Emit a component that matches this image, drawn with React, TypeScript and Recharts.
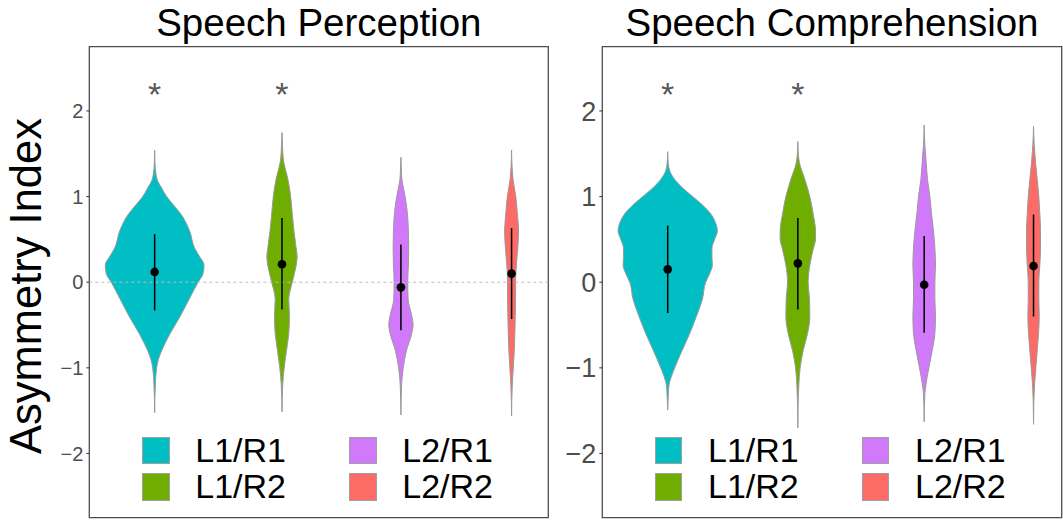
import React from 'react';
import { ComposedChart, Area, Scatter, XAxis, YAxis, ReferenceLine, ReferenceArea } from 'recharts';

const FONT = '"Liberation Sans", Arial, Helvetica, sans-serif';

const GROUPS = ['L1/R1', 'L1/R2', 'L2/R1', 'L2/R2'];
const COLORS = ['#00BEC4', '#6FAE00', '#D079FA', '#FC6B65'];
const Y_TICKS = [-2, -1, 0, 1, 2];

// dodged x position of each group inside a panel (x axis runs 0..46)
const PERCEPTION_X = [6.55, 19.31, 31.23, 42.32];
const COMPREHENSION_X = [6.55, 19.58, 32.23, 43.18];

// median and interval of each group
const PERCEPTION_MED = [0.12, 0.21, -0.06, 0.1];
const PERCEPTION_LO = [-0.33, -0.32, -0.56, -0.43];
const PERCEPTION_HI = [0.56, 0.75, 0.44, 0.63];
const COMPREHENSION_MED = [0.15, 0.22, -0.03, 0.19];
const COMPREHENSION_LO = [-0.36, -0.32, -0.59, -0.4];
const COMPREHENSION_HI = [0.66, 0.75, 0.54, 0.79];

// significance stars
const PERCEPTION_SIG = [true, true, false, false];
const COMPREHENSION_SIG = [true, true, false, false];
const STAR_Y = 2.28;

// violin outlines: [asymmetry index, half width]
const PERC_L1R1 = [
  [1.544, 0], [1.4, 0.03], [1.25, 0.15], [1.2, 0.25], [1.1, 0.7], [1.0, 1.2], [0.9, 1.9],
  [0.8, 2.6], [0.6, 3.5], [0.4, 4.0], [0.3, 4.5], [0.2, 4.95], [0.1, 4.85], [0, 4.35],
  [-0.2, 3.45], [-0.4, 2.55], [-0.6, 1.55], [-0.8, 0.7], [-0.9, 0.38], [-1.0, 0.2],
  [-1.2, 0.07], [-1.524, 0],
];
const PERC_L1R2 = [
  [1.747, 0], [1.6, 0.05], [1.45, 0.12], [1.4, 0.18], [1.2, 0.6], [1.0, 0.87], [0.8, 1.03],
  [0.6, 1.2], [0.4, 1.42], [0.3, 1.52], [0.2, 1.43], [0, 1.03], [-0.2, 0.68], [-0.4, 0.75],
  [-0.6, 0.68], [-0.8, 0.45], [-1.0, 0.22], [-1.2, 0.07], [-1.513, 0],
];
const PERC_L2R1 = [
  [1.459, 0], [1.3, 0.05], [1.2, 0.1], [1.1, 0.25], [1.0, 0.42], [0.8, 0.65], [0.6, 0.75],
  [0.4, 0.78], [0.2, 0.75], [0, 0.68], [-0.2, 0.72], [-0.4, 1.1], [-0.5, 1.22], [-0.6, 1.08],
  [-0.8, 0.55], [-1.0, 0.23], [-1.2, 0.07], [-1.551, 0],
];
const PERC_L2R2 = [
  [1.544, 0], [1.35, 0.05], [1.2, 0.15], [1.1, 0.28], [1.0, 0.42], [0.8, 0.58], [0.6, 0.7],
  [0.4, 0.62], [0.2, 0.48], [0, 0.4], [-0.2, 0.4], [-0.4, 0.37], [-0.6, 0.33], [-0.8, 0.27],
  [-1.0, 0.17], [-1.2, 0.07], [-1.563, 0],
];

const COMP_L1R1 = [
  [1.525, 0], [1.4, 0.05], [1.3, 0.2], [1.2, 0.7], [1.1, 1.5], [1.0, 2.5], [0.9, 3.5],
  [0.8, 4.3], [0.7, 4.77], [0.6, 4.97], [0.5, 4.7], [0.4, 4.43], [0.3, 4.43], [0.2, 4.47],
  [0.1, 4.2], [0, 3.8], [-0.2, 3.47], [-0.4, 2.87], [-0.6, 2.2], [-0.8, 1.43], [-1.0, 0.7],
  [-1.1, 0.37], [-1.2, 0.13], [-1.3, 0.07], [-1.493, 0],
];
const COMP_L1R2 = [
  [1.642, 0], [1.5, 0.05], [1.4, 0.15], [1.2, 0.7], [1.0, 1.2], [0.8, 1.53], [0.6, 1.77],
  [0.5, 1.77], [0.4, 1.57], [0.2, 1.2], [0, 1.03], [-0.2, 1.17], [-0.4, 1.2], [-0.6, 0.97],
  [-0.8, 0.53], [-1.0, 0.23], [-1.2, 0.1], [-1.4, 0.03], [-1.7, 0],
];
const COMP_L2R1 = [
  [1.836, 0], [1.6, 0.07], [1.4, 0.2], [1.2, 0.33], [1.0, 0.57], [0.8, 0.73], [0.6, 0.93],
  [0.4, 1.07], [0.2, 1.13], [0, 1.07], [-0.2, 1.07], [-0.4, 1.13], [-0.6, 1.07], [-0.8, 0.8],
  [-1.0, 0.47], [-1.2, 0.17], [-1.3, 0.07], [-1.63, 0],
];
const COMP_L2R2 = [
  [1.82, 0], [1.6, 0.07], [1.4, 0.2], [1.2, 0.37], [1.0, 0.53], [0.8, 0.63], [0.6, 0.7],
  [0.4, 0.7], [0.2, 0.63], [0, 0.53], [-0.2, 0.53], [-0.4, 0.57], [-0.6, 0.5], [-0.8, 0.37],
  [-1.0, 0.23], [-1.2, 0.1], [-1.4, 0.03], [-1.66, 0],
];

const buildViolin = (outline: number[][], x: number) =>
  outline.map(([v, w]) => ({ v, range: [x - w, x + w] }));

const fmt = (v: number) => (v < 0 ? `\u2212${-v}` : `${v}`);

const DotShape = (p: any) => <circle cx={p.cx} cy={p.cy} r={4.3} fill="#000" />;
const StarShape = (p: any) => (
  <text x={p.cx} y={p.cy} dy="0.57em" textAnchor="middle" fontSize={34} fill="#595959" fontFamily={FONT}>
    *
  </text>
);

function Panel(props: any) {
  const { left, width, axisWidth, marginRight, tickFont, xs, med, lo, hi, sig, outlines, zeroLine } = props;
  const dots = xs.map((x: number, i: number) => ({ x, v: med[i] }));
  const stars = xs.map((x: number) => ({ x, v: STAR_Y })).filter((_: any, i: number) => sig[i]);

  return (
    <div style={{ position: 'absolute', left, top: 0 }}>
      <ComposedChart
        width={width}
        height={520}
        layout="vertical"
        margin={{ top: 46.7, right: marginRight, bottom: 2.3, left: 0 }}
      >
        <XAxis type="number" dataKey="x" domain={[0, 46]} hide allowDataOverflow />
        <YAxis
          type="number"
          dataKey="v"
          domain={[-2.75, 2.75]}
          ticks={Y_TICKS}
          interval={0}
          reversed
          allowDataOverflow
          width={axisWidth}
          axisLine={false}
          tickSize={3}
          tickMargin={3}
          tickLine={{ stroke: '#333' }}
          tick={{ fontSize: tickFont, fill: '#4d4d4d', fontFamily: FONT }}
          tickFormatter={fmt}
        />
        {zeroLine && <ReferenceLine y={0} stroke="#bdbdbd" strokeDasharray="3 3" />}
        {outlines.map((o: number[][], i: number) => (
          <Area
            key={GROUPS[i]}
            data={buildViolin(o, xs[i])}
            dataKey="range"
            type="monotone"
            fill={COLORS[i]}
            fillOpacity={1}
            stroke="#9a9a9a"
            strokeWidth={1}
            dot={false}
            activeDot={false}
            isAnimationActive={false}
          />
        ))}
        {xs.map((x: number, i: number) => (
          <ReferenceLine
            key={'ci' + i}
            segment={[{ x, y: lo[i] }, { x, y: hi[i] }]}
            stroke="#000"
            strokeWidth={1.5}
          />
        ))}
        <Scatter data={dots} shape={DotShape} isAnimationActive={false} />
        <Scatter data={stars} shape={StarShape} isAnimationActive={false} />
        <ReferenceArea
          x1={0}
          x2={46}
          y1={-2.75}
          y2={2.75}
          fill="none"
          stroke="#4d4d4d"
          strokeWidth={1.3}
          ifOverflow="visible"
        />
      </ComposedChart>
    </div>
  );
}

function LegendBox({ left }: { left: number }) {
  const order = [0, 2, 1, 3];
  return (
    <div
      style={{
        position: 'absolute',
        left,
        top: 436.7,
        width: 420,
        display: 'grid',
        gridTemplateColumns: '207px 207px',
        rowGap: 9.3,
      }}
    >
      {order.map((i) => (
        <div key={GROUPS[i]} style={{ display: 'flex', alignItems: 'center', height: 27.3 }}>
          <div
            style={{
              width: 25.3,
              height: 25.3,
              background: COLORS[i],
              border: '1px solid #a0a0a0',
              marginRight: 25.7,
            }}
          />
          <span style={{ fontSize: 34, lineHeight: '27.3px', color: '#000' }}>{GROUPS[i]}</span>
        </div>
      ))}
    </div>
  );
}

export default function App() {
  return (
    <div
      style={{
        position: 'absolute',
        left: 0,
        top: 0,
        width: 1063,
        height: 520,
        background: '#fff',
        fontFamily: FONT,
        overflow: 'hidden',
      }}
    >
      <Panel
        left={0}
        width={560}
        axisWidth={89.3}
        marginRight={11.7}
        tickFont={20}
        xs={PERCEPTION_X}
        med={PERCEPTION_MED}
        lo={PERCEPTION_LO}
        hi={PERCEPTION_HI}
        sig={PERCEPTION_SIG}
        outlines={[PERC_L1R1, PERC_L1R2, PERC_L2R1, PERC_L2R2]}
        zeroLine
      />
      <Panel
        left={555}
        width={508}
        axisWidth={47.3}
        marginRight={1.3}
        tickFont={27}
        xs={COMPREHENSION_X}
        med={COMPREHENSION_MED}
        lo={COMPREHENSION_LO}
        hi={COMPREHENSION_HI}
        sig={COMPREHENSION_SIG}
        outlines={[COMP_L1R1, COMP_L1R2, COMP_L2R1, COMP_L2R2]}
        zeroLine={false}
      />
      <div style={{ position: 'absolute', left: 89.3, width: 459, top: 4, textAlign: 'center', fontSize: 38.5, lineHeight: 1 }}>
        Speech Perception
      </div>
      <div style={{ position: 'absolute', left: 602.3, width: 459.4, top: 4, textAlign: 'center', fontSize: 38.5, lineHeight: 1 }}>
        Speech Comprehension
      </div>
      <svg width={1063} height={520} style={{ position: 'absolute', left: 0, top: 0, pointerEvents: 'none' }}>
        <text transform="rotate(-90)" x={-286} y={41} textAnchor="middle" fontSize={43.5} fontFamily={FONT} fill="#000">
          Asymmetry Index
        </text>
      </svg>
      <LegendBox left={142.3} />
      <LegendBox left={655} />
    </div>
  );
}
